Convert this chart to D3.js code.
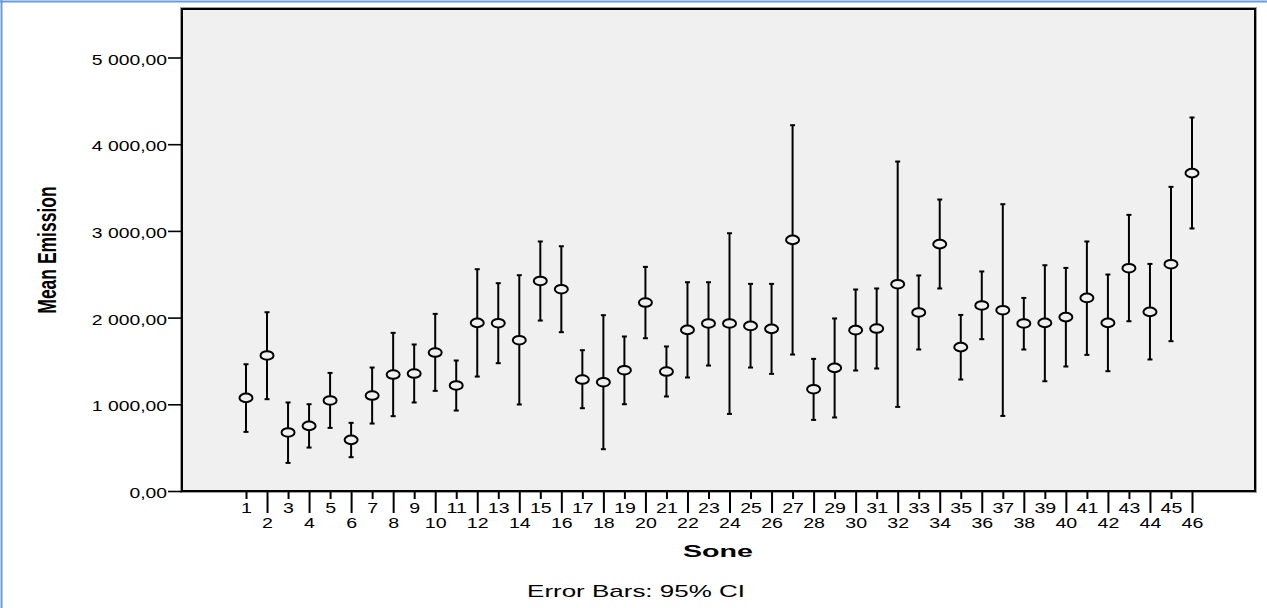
<!DOCTYPE html>
<html>
<head>
<meta charset="utf-8">
<script src="https://cdn.jsdelivr.net/npm/d3@7"></script>
<style>
  html, body { margin: 0; padding: 0; background: #ffffff; }
  svg { display: block; }
  text { font-family: "Liberation Sans", Arial, sans-serif; fill: #000; }
</style>
</head>
<body>
<svg id="chart" width="1267" height="608"></svg>
<script>
// ---- data ----
const zones = d3.range(1, 47).map(String);
const means = [1074,1563,675,751,1044,590,1101,1343,1355,1597,
               1217,1939,1935,1739,2423,2327,1286,1255,1393,2174,
               1378,1858,1932,1932,1904,1870,2896,1174,1420,1855,
               1874,2385,2059,2847,1659,2140,2085,1932,1939,2005,
               2227,1939,2570,2066,2616,3666];
const lower = [682,1059,324,501,728,390,778,863,1021,1155,
               928,1320,1474,998,1966,1832,955,482,1001,1762,
               1090,1309,1447,889,1424,1351,1574,820,848,1390,
               1413,970,1632,2336,1286,1751,866,1632,1266,1436,
               1570,1382,1958,1517,1728,3028];
const upper = [1462,2062,1021,1001,1362,786,1424,1824,1690,2043,
               1505,2558,2397,2489,2878,2823,1624,2028,1782,2585,
               1667,2408,2408,2973,2389,2389,4219,1524,1990,2324,
               2336,3800,2486,3362,2031,2532,3308,2227,2604,2573,
               2878,2497,3185,2619,3508,4308];
const yTicks = [0, 1000, 2000, 3000, 4000, 5000];
const xTitle = "Sone";
const yTitle = "Mean Emission";
const footnote = "Error Bars: 95% CI";

// ---- layout ----
const svg = d3.select("#chart");
const plot = { left: 182, right: 1255, top: 9, bottom: 491 };

// page frame (light blue top + left edges)
svg.append("line").attr("x1", 0).attr("x2", 1267).attr("y1", 1.5).attr("y2", 1.5)
   .attr("stroke", "#6a9bd3").attr("stroke-width", 2);
svg.append("line").attr("x1", 1.5).attr("x2", 1.5).attr("y1", 0).attr("y2", 608)
   .attr("stroke", "#6a9bd3").attr("stroke-width", 2);

const x = d3.scalePoint().domain(zones).range([246, 1192]);
const y = d3.scaleLinear().domain([0, 5000]).range([491, 57.5]);

// plot background + frame
svg.append("rect")
   .attr("x", plot.left - 1.5).attr("y", plot.top - 1.5)
   .attr("width", plot.right - plot.left + 3).attr("height", plot.bottom - plot.top + 3)
   .attr("fill", "none").attr("stroke", "#a0a0a0").attr("stroke-width", 1);
svg.append("rect")
   .attr("x", plot.left).attr("y", plot.top)
   .attr("width", plot.right - plot.left).attr("height", plot.bottom - plot.top)
   .attr("fill", "#f0f0f0").attr("stroke", "#000").attr("stroke-width", 2);

// ---- y axis ----
const locale = d3.formatLocale({ decimal: ",", thousands: " ", grouping: [3], currency: ["", ""] });
const fmt = locale.format(",.2f");
const yAxis = d3.axisLeft(y).tickValues(yTicks).tickSize(14).tickSizeOuter(0).tickFormat(fmt);
const gy = svg.append("g").attr("transform", `translate(${plot.left},0)`).call(yAxis);
gy.select(".domain").remove();
gy.selectAll(".tick line").attr("stroke", "#000").attr("stroke-width", 1.6);
gy.selectAll(".tick text")
  .attr("x", 0).attr("y", 0).attr("dy", "0")
  .attr("transform", "translate(-15,6.5) scale(1.38,1)")
  .style("font-size", "14px")
  .attr("text-anchor", "end")
  .attr("fill", "#000");

// ---- x axis ----
const xAxis = d3.axisBottom(x).tickSizeOuter(0).tickSize(8);
const gx = svg.append("g").attr("transform", `translate(0,${plot.bottom})`).call(xAxis);
gx.select(".domain").remove();
gx.selectAll(".tick line")
  .attr("stroke", "#000").attr("stroke-width", 2)
  .attr("y2", (d, i) => (i % 2 === 0 ? 8 : 22));
gx.selectAll(".tick text")
  .attr("y", 0).attr("dy", "0")
  .attr("transform", (d, i) => `translate(0,${i % 2 === 0 ? 22 : 37}) scale(1.4,1)`)
  .style("font-size", "14px")
  .attr("fill", "#000");

// ---- error bars ----
const capW = 2.5;
const bars = svg.append("g").selectAll("g").data(zones).join("g");
bars.append("line")
    .attr("x1", d => x(d)).attr("x2", d => x(d))
    .attr("y1", (d, i) => y(lower[i])).attr("y2", (d, i) => y(upper[i]))
    .attr("stroke", "#000").attr("stroke-width", 2);
bars.append("line")
    .attr("x1", d => x(d) - capW).attr("x2", d => x(d) + capW)
    .attr("y1", (d, i) => y(upper[i])).attr("y2", (d, i) => y(upper[i]))
    .attr("stroke", "#000").attr("stroke-width", 2);
bars.append("line")
    .attr("x1", d => x(d) - capW).attr("x2", d => x(d) + capW)
    .attr("y1", (d, i) => y(lower[i])).attr("y2", (d, i) => y(lower[i]))
    .attr("stroke", "#000").attr("stroke-width", 2);
bars.append("ellipse")
    .attr("cx", d => x(d)).attr("cy", (d, i) => y(means[i]))
    .attr("rx", 6.5).attr("ry", 4.3)
    .attr("fill", "#f0f0f0").attr("stroke", "#000").attr("stroke-width", 2);

// ---- titles ----
function fitText(sel, cx, by, width) {
  const len = sel.node().getComputedTextLength();
  sel.attr("transform", `translate(${cx},${by}) scale(${width / len},1)`);
}
const xt = svg.append("text").text(xTitle)
  .attr("text-anchor", "middle").style("font-size", "17px").style("font-weight", "bold");
fitText(xt, 718, 556.5, 70);

const ft = svg.append("text").text(footnote)
  .attr("text-anchor", "middle").style("font-size", "16px");
fitText(ft, 636, 596.5, 218);

svg.append("text").text(yTitle)
  .attr("text-anchor", "middle")
  .style("font-size", "17.5px").style("font-weight", "bold")
  .attr("transform", "translate(55.5,250) scale(1.42,1) rotate(-90)");
</script>
</body>
</html>
